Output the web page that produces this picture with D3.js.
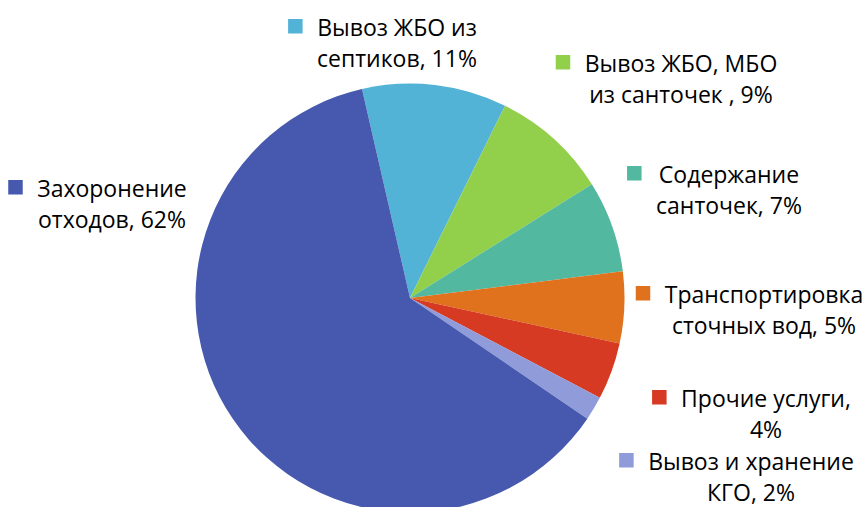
<!DOCTYPE html>
<html>
<head>
<meta charset="utf-8">
<script src="https://cdn.jsdelivr.net/npm/d3@7"></script>
<style>
  body { margin: 0; background: #fff; }
  svg { display: block; }
  text { font-family: "Open Sans", "Noto Sans", sans-serif; fill: #000; }
</style>
</head>
<body>
<div id="chart"></div>
<script>
// data, clockwise from the top
var categories = ["Вывоз ЖБО из септиков", "Вывоз ЖБО, МБО из санточек ", "Содержание санточек",
    "Транспортировка сточных вод", "Прочие услуги", "Вывоз и хранение КГО", "Захоронение отходов"];
var values = [10.9, 8.8, 6.9, 5.4, 4.3, 1.8, 61.9];
var pctLabels = ["11%", "9%", "7%", "5%", "4%", "2%", "62%"];
var labelLines = [
    ["Вывоз ЖБО из", "септиков, 11%"],
    ["Вывоз ЖБО, МБО", "из санточек , 9%"],
    ["Содержание", "санточек, 7%"],
    ["Транспортировка", "сточных вод, 5%"],
    ["Прочие услуги,", "4%"],
    ["Вывоз и хранение", "КГО, 2%"],
    ["Захоронение", "отходов, 62%"]
];
var colors = ["#53b3d6", "#92cf4b", "#52b8a0", "#e0711d", "#d63a22", "#909bd9", "#4659ae"];

// label layout: text centre x, first baseline y
var labelPos = [[397, 36], [681, 72], [729, 183], [764, 303], [766, 407], [751, 470], [112, 197]];

var width = 863, height = 507;
var cx = 410, cy = 298, radius = 214.5;
var lineH = 31;

var svg = d3.select("#chart").append("svg")
    .attr("width", width)
    .attr("height", height);

var pie = d3.pie()
    .sort(null)
    .startAngle(-12.94 * Math.PI / 180)
    .endAngle(2 * Math.PI - 12.94 * Math.PI / 180);

var arc = d3.arc().innerRadius(0).outerRadius(radius);

var g = svg.append("g").attr("transform", `translate(${cx}, ${cy})`);

g.selectAll("path")
    .data(pie(values))
    .enter().append("path")
    .attr("d", arc)
    .attr("fill", (d, i) => colors[i]);

// labels with square markers
labelLines.forEach(function(lines, i) {
    var lg = svg.append("g");
    var minLeft = Infinity;
    lines.forEach(function(line, j) {
        var t = lg.append("text")
            .attr("x", labelPos[i][0])
            .attr("y", labelPos[i][1] + j * lineH)
            .attr("text-anchor", "middle")
            .style("font-size", "23px")
            .text(line);
        var w = t.node().getComputedTextLength();
        minLeft = Math.min(minLeft, labelPos[i][0] - w / 2);
    });
    lg.append("rect")
        .attr("x", minLeft - 29)
        .attr("y", labelPos[i][1] - 17)
        .attr("width", 14.5)
        .attr("height", 14.5)
        .attr("fill", colors[i]);
});
</script>
</body>
</html>
